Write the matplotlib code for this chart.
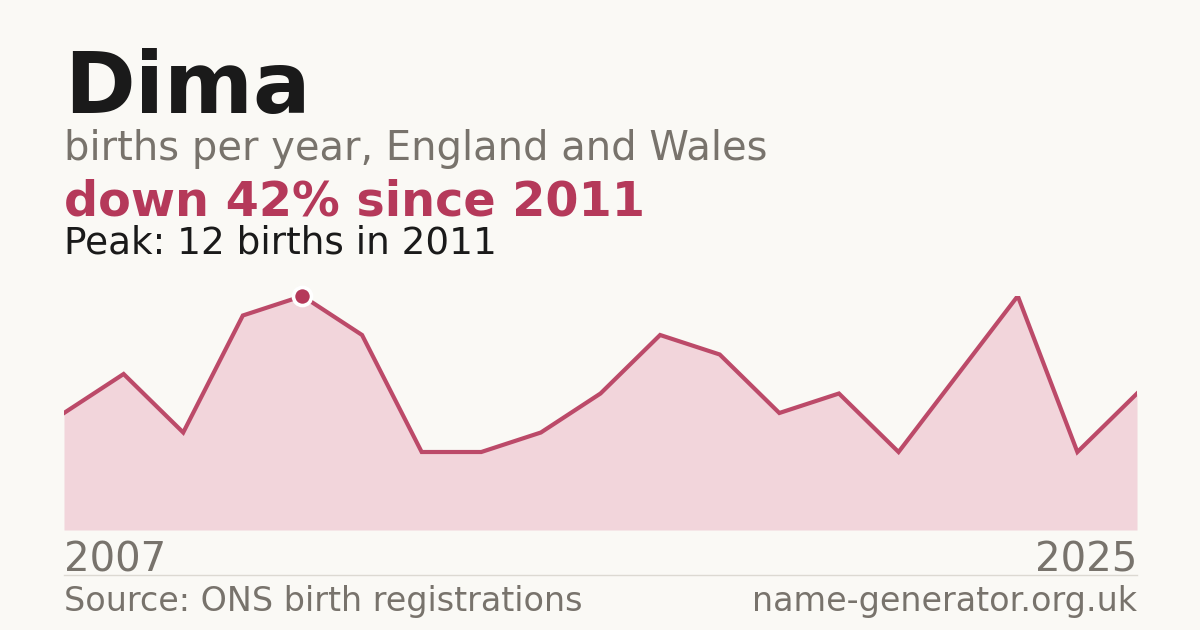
import numpy as np
import matplotlib.pyplot as plt

# ---------------- data ----------------
years = list(range(2007, 2026))
births = [6, 8, 5, 11, 12, 10, 4, 4, 5, 7, 10, 9, 6, 7, 4, 8, 12, 4, 7]
peak_year = 2011
peak_val = 12

BG = '#faf9f5'
ACCENT = '#b5395a'
LINE = '#bc4a69'
FILL = '#f2d5db'
GREY = '#78736c'
DARK = '#1a1a1a'

W, H = 1200, 630
fig = plt.figure(figsize=(12, 6.3), dpi=100, facecolor=BG)

def fy(px):
    return 1 - px / H

# chart area: x 64..1137, y 296 (value 12) .. 530 (value 0)
ax = fig.add_axes([64 / W, fy(530), (1137 - 64) / W, (530 - 296) / H])
ax.set_facecolor('none')
ax.fill_between(years, births, 0, color=FILL, lw=0)
ax.plot(years, births, color=LINE, lw=3.0, solid_joinstyle='miter')  # clipped to plot box like the original
ax.plot([peak_year], [peak_val], 'o', ms=13, color=ACCENT, mec='white', mew=2.6,
        clip_on=False, zorder=5)
ax.set_xlim(years[0], years[-1])
ax.set_ylim(0, peak_val)
ax.axis('off')

# texts
fig.text(64 / W, fy(113), 'Dima', fontsize=61.5, fontweight='bold', color=DARK, va='baseline')
fig.text(64 / W, fy(160), 'births per year, England and Wales', fontsize=28.8, color=GREY, va='baseline')
fig.text(64 / W, fy(215), 'down 42% since 2011', fontsize=34.4, fontweight='bold', color=ACCENT, va='baseline')
fig.text(64 / W, fy(253), 'Peak: 12 births in 2011', fontsize=26.9, color=DARK, va='baseline')

fig.text(64 / W, fy(571), str(years[0]), fontsize=29, color=GREY, va='baseline')
fig.text(1137 / W, fy(571), str(years[-1]), fontsize=29, color=GREY, va='baseline', ha='right')

fig.add_artist(plt.Line2D([64 / W, 1137 / W], [fy(574.5), fy(574.5)], color='#dcd9d2', lw=1))

fig.text(64 / W, fy(611), 'Source: ONS birth registrations', fontsize=24, color=GREY, va='baseline')
fig.text(1137 / W, fy(611), 'name-generator.org.uk', fontsize=24, color=GREY, va='baseline', ha='right')

fig.savefig('out.png', dpi=100, facecolor=BG)
